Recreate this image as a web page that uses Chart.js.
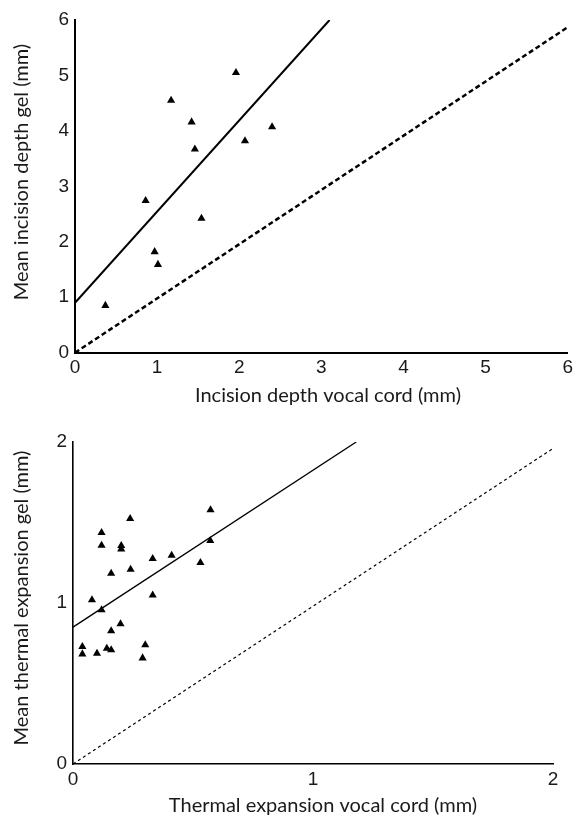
<!DOCTYPE html>
<html>
<head>
<meta charset="utf-8">
<script src="https://cdn.jsdelivr.net/npm/chart.js@4.4.1/dist/chart.umd.min.js"></script>
<style>
  html, body { margin: 0; padding: 0; background: #fff; }
  .box { position: absolute; left: 0; width: 577px; }
  #top-box { top: 0; height: 408px; }
  #bottom-box { top: 410px; height: 409px; }
</style>
</head>
<body>
<div class="box" id="top-box"><canvas id="depth-chart"></canvas></div>
<div class="box" id="bottom-box"><canvas id="thermal-chart"></canvas></div>
<script>
// Incision depth (mm)
const depthVocal = [0.37, 0.86, 0.97, 1.01, 1.17, 1.42, 1.46, 1.54, 1.96, 2.07, 2.40];
const depthGel = [0.85, 2.74, 1.82, 1.59, 4.55, 4.16, 3.67, 2.42, 5.05, 3.82, 4.07];
const depthFitX = [0, 3.1];
const depthFitY = [0.9, 6];
const depthRefX = [0, 6];
const depthRefY = [0, 5.87];
const depthTicks = [0, 1, 2, 3, 4, 5, 6];

// Thermal expansion (mm)
const thermVocal = [0.039, 0.039, 0.079, 0.100, 0.119, 0.119, 0.119, 0.141, 0.159, 0.159, 0.159, 0.201,
  0.201, 0.198, 0.238, 0.240, 0.290, 0.301, 0.332, 0.332, 0.411, 0.531, 0.573, 0.572];
const thermGel = [0.729, 0.683, 1.019, 0.687, 1.437, 1.358, 0.957, 0.718, 0.708, 1.184, 0.826, 1.356,
  1.335, 0.870, 1.524, 1.209, 0.658, 0.739, 1.275, 1.048, 1.296, 1.250, 1.578, 1.387];
const thermFitX = [0, 1.18];
const thermFitY = [0.85, 2];
const thermRefX = [0, 2];
const thermRefY = [0, 1.96];
const thermTicks = [0, 1, 2];

const tickFont = { family: '"Liberation Sans", Arial, sans-serif', size: 19 };
const titleFontCss = '20px Lato, "Open Sans", sans-serif';
const ink = '#1a1a1a';

function toPoints(xs, ys) {
  return xs.map((x, i) => ({ x: x, y: ys[i] }));
}

// Axis titles drawn by hand so they can sit off-centre like the original figure
const axisTitles = {
  id: 'axisTitles',
  afterDraw(chart, args, opts) {
    const c = chart.ctx;
    c.save();
    c.fillStyle = ink;
    c.font = titleFontCss;
    c.textAlign = 'center';
    c.textBaseline = 'middle';
    c.fillText(opts.xText, opts.xAt[0], opts.xAt[1]);
    c.translate(opts.yAt[0], opts.yAt[1]);
    c.rotate(-Math.PI / 2);
    c.fillText(opts.yText, 0, 0);
    c.restore();
  }
};

function makeChart(canvasId, cfg) {
  const ctx = document.getElementById(canvasId);
  return new Chart(ctx, {
    type: 'scatter',
    plugins: [axisTitles],
    data: {
      datasets: [
        {
          data: toPoints(cfg.xs, cfg.ys),
          pointStyle: 'triangle',
          pointRadius: 4.7,
          backgroundColor: '#000',
          borderColor: '#000',
          borderWidth: 0
        },
        {
          type: 'line',
          data: toPoints(cfg.fitX, cfg.fitY),
          borderColor: '#000',
          borderWidth: cfg.fitWidth,
          pointRadius: 0,
          fill: false
        },
        {
          type: 'line',
          data: toPoints(cfg.refX, cfg.refY),
          borderColor: '#000',
          borderWidth: cfg.refWidth,
          borderDash: cfg.dash,
          pointRadius: 0,
          fill: false
        }
      ]
    },
    options: {
      responsive: true,
      maintainAspectRatio: false,
      animation: false,
      layout: {
        autoPadding: false,
        padding: { left: 0, right: cfg.padRight, top: cfg.padTop, bottom: 0 }
      },
      plugins: {
        legend: { display: false },
        tooltip: { enabled: false },
        axisTitles: { xText: cfg.xTitle, xAt: cfg.xTitleAt, yText: cfg.yTitle, yAt: cfg.yTitleAt }
      },
      scales: {
        x: {
          type: 'linear',
          min: 0,
          max: cfg.max,
          afterBuildTicks: s => { s.ticks = cfg.ticks.map(v => ({ value: v })); },
          afterFit: s => { s.height = cfg.xHeight; },
          grid: { display: false, drawTicks: false },
          border: { color: '#000', width: cfg.axisWidth },
          ticks: { color: ink, font: tickFont, padding: 4 }
        },
        y: {
          type: 'linear',
          min: 0,
          max: cfg.max,
          afterBuildTicks: s => { s.ticks = cfg.ticks.map(v => ({ value: v })); },
          afterFit: s => { s.width = cfg.yWidth; },
          grid: { display: false, drawTicks: false },
          border: { color: '#000', width: cfg.axisWidth },
          ticks: { color: ink, font: tickFont, padding: 6 }
        }
      }
    }
  });
}

makeChart('depth-chart', {
  xs: depthVocal, ys: depthGel,
  fitX: depthFitX, fitY: depthFitY,
  refX: depthRefX, refY: depthRefY,
  ticks: depthTicks, max: 6,
  fitWidth: 2, refWidth: 2.5, dash: [5, 3], axisWidth: 2,
  padTop: 20, padRight: 6, yWidth: 75, xHeight: 55.3,
  xTitle: 'Incision depth vocal cord (mm)', xTitleAt: [328, 396],
  yTitle: 'Mean incision depth gel (mm)', yTitleAt: [22, 172]
});

makeChart('thermal-chart', {
  xs: thermVocal, ys: thermGel,
  fitX: thermFitX, fitY: thermFitY,
  refX: thermRefX, refY: thermRefY,
  ticks: thermTicks, max: 2,
  fitWidth: 1.3, refWidth: 1.2, dash: [3, 3], axisWidth: 1.6,
  padTop: 32, padRight: 24, yWidth: 73, xHeight: 55,
  xTitle: 'Thermal expansion vocal cord (mm)', xTitleAt: [323, 396],
  yTitle: 'Mean thermal expansion gel (mm)', yTitleAt: [22, 188]
});
</script>
</body>
</html>
